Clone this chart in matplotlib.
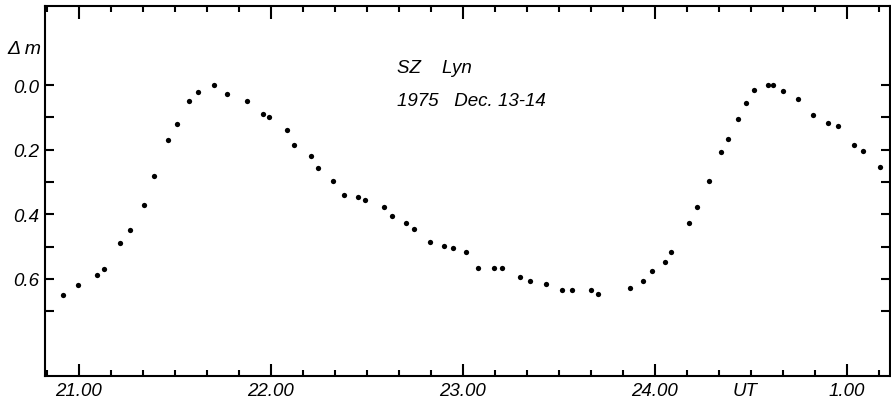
import numpy as np
import matplotlib
matplotlib.use("Agg")
import matplotlib.pyplot as plt
from matplotlib.ticker import MultipleLocator, FixedLocator

# SZ Lyn light curve, 1975 Dec. 13-14 (UT hours, 24+ = after midnight)
ut = [20.917, 20.996, 21.097, 21.130, 21.213, 21.267, 21.338, 21.394, 21.463, 21.512,
      21.576, 21.621, 21.706, 21.774, 21.875, 21.960, 21.993, 22.083, 22.123, 22.210,
      22.246, 22.324, 22.380, 22.453, 22.490, 22.589, 22.633, 22.706, 22.746, 22.831,
      22.904, 22.948, 23.017, 23.081, 23.163, 23.206, 23.297, 23.352, 23.432, 23.517,
      23.568, 23.668, 23.703, 23.871, 23.937, 23.985, 24.052, 24.087, 24.177, 24.219,
      24.283, 24.347, 24.380, 24.434, 24.477, 24.516, 24.592, 24.618, 24.668, 24.748,
      24.824, 24.901, 24.956, 25.036, 25.083, 25.173]
dm = [0.650, 0.619, 0.589, 0.569, 0.489, 0.449, 0.370, 0.280, 0.170, 0.120,
      0.050, 0.020, 0.000, 0.027, 0.050, 0.088, 0.098, 0.138, 0.186, 0.219,
      0.258, 0.298, 0.339, 0.348, 0.357, 0.378, 0.406, 0.426, 0.447, 0.486,
      0.497, 0.506, 0.516, 0.568, 0.567, 0.567, 0.594, 0.607, 0.617, 0.636,
      0.636, 0.636, 0.646, 0.629, 0.607, 0.577, 0.547, 0.518, 0.428, 0.378,
      0.297, 0.206, 0.166, 0.106, 0.054, 0.015, 0.000, 0.000, 0.019, 0.044,
      0.094, 0.116, 0.127, 0.185, 0.205, 0.255]

hour_ticks = [21, 22, 23, 24, 25]
hour_labels = ['21.00', '22.00', '23.00', '24.00', '1.00']
mag_ticks = [0.0, 0.2, 0.4, 0.6]
mag_labels = ['0.0', '0.2', '0.4', '0.6']

plt.rcParams['font.family'] = ['Liberation Sans', 'DejaVu Sans']
plt.rcParams['font.style'] = 'italic'

fig = plt.figure(figsize=(8.91, 4.06), dpi=100)
ax = fig.add_axes([45/891, 29.3/406, 845/891, 369.4/406])

ax.plot(ut, dm, 'o', color='black', markersize=3.8, markeredgewidth=0)

ax.set_xlim(20.825, 25.225)
ax.set_ylim(0.90, -0.244)

ax.xaxis.set_major_locator(FixedLocator(hour_ticks))
ax.set_xticklabels(hour_labels)
ax.xaxis.set_minor_locator(MultipleLocator(1/6))
ax.yaxis.set_major_locator(FixedLocator(mag_ticks))
ax.set_yticklabels(mag_labels)
ax.yaxis.set_minor_locator(FixedLocator([0.1, 0.3, 0.5, 0.7]))

ax.tick_params(which='both', direction='in', top=True, right=True, width=1.5,
               labelsize=13.5, pad=4.5)
ax.tick_params(axis='x', which='major', length=9)
ax.tick_params(axis='x', which='minor', length=4.5)
ax.tick_params(axis='y', which='both', length=6.5)
for s in ax.spines.values():
    s.set_linewidth(1.5)

ax.text(-0.045, 0.887, 'Δ m', transform=ax.transAxes, fontsize=14,
        ha='left', va='center')
ax.text(24.47, -0.017, 'UT', transform=ax.get_xaxis_transform(), fontsize=13.5,
        ha='center', va='top')
ax.text(0.417, 0.835, 'SZ    Lyn', transform=ax.transAxes, fontsize=13.5, va='center')
ax.text(0.417, 0.745, '1975   Dec. 13-14', transform=ax.transAxes, fontsize=13.5,
        va='center')

fig.savefig('out.png', dpi=100)
